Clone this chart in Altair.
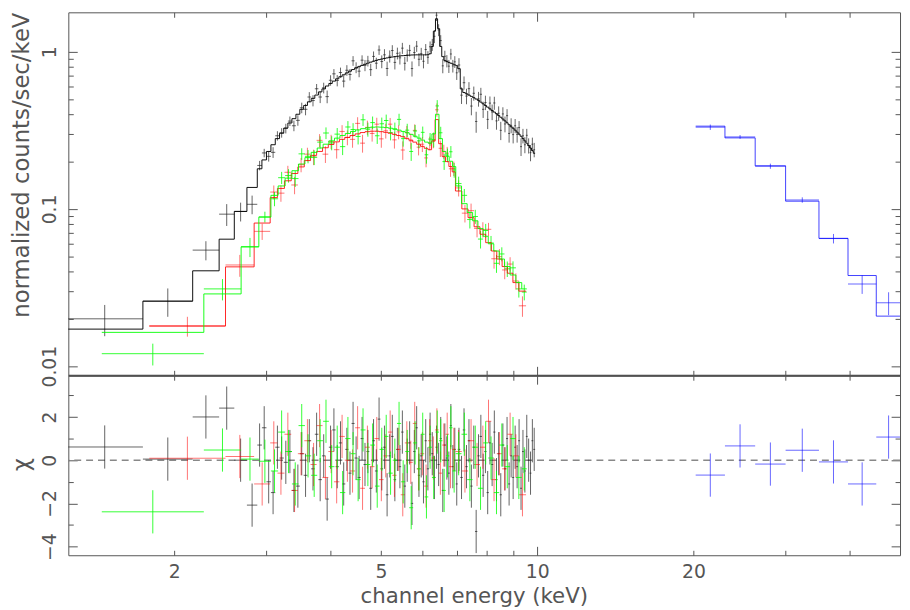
import altair as alt
import pandas as pd

# ---------------- data ----------------
# black group: bin edges (keV), flux, 1-sigma error, model, chi residual
black_edges = [1.24, 1.74, 2.17, 2.44, 2.61, 2.76, 2.89,
               2.95, 3.01, 3.07, 3.13, 3.19, 3.25, 3.31, 3.37, 3.43, 3.49,
               3.55, 3.61, 3.67, 3.73, 3.79, 3.85, 3.91, 3.97, 4.03, 4.09, 4.15, 4.21, 4.27,
               4.33, 4.39, 4.45, 4.51, 4.57, 4.63, 4.69, 4.75, 4.81, 4.87, 4.93, 4.99,
               5.05, 5.11, 5.17, 5.23, 5.29, 5.35, 5.41, 5.47, 5.53, 5.59, 5.65, 5.71, 5.77,
               5.83, 5.89, 5.95, 6.01, 6.07, 6.13, 6.19, 6.25, 6.31, 6.37, 6.43, 6.49, 6.55,
               6.61, 6.67, 6.73, 6.79, 6.85, 6.91, 6.97, 7.03,
               7.11, 7.19, 7.27, 7.35, 7.43, 7.51, 7.59, 7.67, 7.75, 7.83, 7.91, 7.99, 8.07,
               8.15, 8.23, 8.31, 8.39, 8.47, 8.55, 8.63, 8.71, 8.79, 8.87, 8.95, 9.03, 9.11,
               9.19, 9.27, 9.35, 9.43, 9.51, 9.59, 9.67, 9.75, 9.83, 9.91]
black_flux = [0.0200, 0.0259, 0.0547, 0.0926, 0.0964, 0.107,
              0.189, 0.227, 0.216, 0.229, 0.292, 0.305, 0.325, 0.362, 0.338, 0.366,
              0.440, 0.430, 0.515, 0.489, 0.581, 0.515, 0.589, 0.518, 0.658, 0.723, 0.656, 0.737, 0.650,
              0.762, 0.716, 0.875, 0.793, 0.752, 0.883, 0.819, 0.873, 0.769, 0.933, 0.845, 1.025,
              0.866, 0.955, 0.782, 0.936, 1.017, 0.855, 0.977, 0.914, 1.053, 0.844, 0.949, 1.019, 0.781,
              0.988, 1.084, 0.895, 0.972, 0.869, 1.032, 0.922, 1.075, 1.109, 1.253, 1.707, 1.375, 1.177,
              0.813, 0.935, 0.873, 0.809, 0.967, 0.812, 0.862, 0.734,
              0.823, 0.529, 0.635, 0.522, 0.582, 0.451, 0.544, 0.360, 0.501, 0.536, 0.430, 0.475, 0.371,
              0.471, 0.414, 0.472, 0.363, 0.406, 0.316, 0.402, 0.347, 0.392, 0.302, 0.340, 0.297, 0.338,
              0.298, 0.329, 0.249, 0.292, 0.256, 0.294, 0.253, 0.228, 0.258, 0.238]
black_err = [0.0045, 0.0053, 0.0076, 0.0147, 0.0132, 0.0145,
             0.013, 0.014, 0.016, 0.018, 0.020, 0.021, 0.023, 0.025, 0.026, 0.028,
             0.034, 0.036, 0.038, 0.040, 0.042, 0.044, 0.046, 0.048, 0.050, 0.052, 0.054, 0.055, 0.057,
             0.059, 0.060, 0.062, 0.063, 0.064, 0.065, 0.067, 0.068, 0.069, 0.070, 0.070, 0.071,
             0.081, 0.082, 0.082, 0.083, 0.083, 0.084, 0.084, 0.085, 0.085, 0.085, 0.085, 0.086, 0.086,
             0.086, 0.086, 0.086, 0.086, 0.086, 0.086, 0.086, 0.087, 0.097, 0.120, 0.140, 0.120, 0.097,
             0.084, 0.079, 0.078, 0.077, 0.076, 0.075, 0.074, 0.073,
             0.086, 0.064, 0.061, 0.059, 0.058, 0.057, 0.056, 0.055, 0.054, 0.053, 0.051, 0.050, 0.049,
             0.048, 0.047, 0.045, 0.044, 0.043, 0.042, 0.041, 0.040, 0.039, 0.038, 0.037, 0.036, 0.035,
             0.034, 0.033, 0.032, 0.031, 0.030, 0.029, 0.028, 0.027, 0.026, 0.025]
black_model = [0.0172, 0.0259, 0.0404, 0.0642, 0.0964, 0.137,
               0.180, 0.205, 0.232, 0.256, 0.280, 0.303, 0.327, 0.352, 0.375, 0.400,
               0.430, 0.455, 0.480, 0.505, 0.530, 0.555, 0.580, 0.605, 0.628, 0.650, 0.672, 0.693, 0.713,
               0.733, 0.752, 0.770, 0.787, 0.803, 0.818, 0.832, 0.846, 0.858, 0.870, 0.880, 0.890,
               0.898, 0.906, 0.913, 0.919, 0.925, 0.930, 0.935, 0.939, 0.943, 0.946, 0.949, 0.951, 0.953,
               0.954, 0.955, 0.955, 0.955, 0.955, 0.955, 0.956, 0.970, 1.080, 1.350, 1.620, 1.400, 1.080,
               0.930, 0.880, 0.865, 0.855, 0.845, 0.835, 0.825, 0.815,
               0.780, 0.580, 0.550, 0.540, 0.530, 0.520, 0.510, 0.500, 0.490, 0.478, 0.466, 0.455, 0.444,
               0.433, 0.423, 0.413, 0.403, 0.393, 0.383, 0.373, 0.363, 0.353, 0.343, 0.333, 0.326, 0.317,
               0.308, 0.299, 0.290, 0.280, 0.271, 0.262, 0.253, 0.244, 0.235, 0.226]
black_chi = [0.61, 0.05, 2.0, 2.41, 0.0, -2.08,
             0.7, 1.5, -1.0, -1.5, 0.6, 0.1, -0.1, 0.4, -1.4, -1.2,
             0.3, -0.7, 0.9, -0.4, 1.2, -0.9, 0.2, -1.8, 0.6, 1.4, -0.3, 0.8, -1.1,
             0.5, -0.6, 1.7, 0.1, -0.8, 1.0, -0.2, 0.4, -1.3, 0.9, -0.5, 1.9,
             -0.4, 0.6, -1.6, 0.2, 1.1, -0.9, 0.5, -0.3, 1.3, -1.2, 0.0, 0.8, -2.0,
             0.4, 1.5, -0.7, 0.2, -1.0, 0.9, -0.4, 1.2, 0.3, -0.8, 0.6, -0.2, 1.0,
             -1.4, 0.7, 0.1, -0.6, 1.6, -0.3, 0.5, -1.1,
             0.5, -0.8, 1.4, -0.3, 0.9, -1.2, 0.6, -3.3, 0.2, 1.1, -0.7, 0.4, -1.5,
             0.8, -0.2, 1.3, -0.9, 0.3, -1.6, 0.7, -0.4, 1.0, -1.1, 0.2, -0.8, 0.6,
             -0.3, 0.9, -1.3, 0.4, -0.5, 1.1, 0.0, -0.6, 0.9, 0.5]

# red group
red_edges = [1.79, 2.51, 2.85, 3.06,
             3.16, 3.26, 3.36, 3.46, 3.56, 3.66, 3.76, 3.86, 3.96, 4.06,
             4.16, 4.26, 4.36, 4.46, 4.56, 4.66, 4.76, 4.86, 4.96, 5.06,
             5.16, 5.26, 5.36, 5.46, 5.56, 5.66, 5.76, 5.86, 5.96, 6.06,
             6.16, 6.26, 6.36, 6.46, 6.56, 6.66, 6.76, 6.86, 6.96,
             7.16, 7.36, 7.56, 7.76, 7.96, 8.16, 8.36, 8.56, 8.76, 8.98, 9.22, 9.52]
red_flux = [0.0180, 0.044, 0.072,
            0.128, 0.126, 0.171, 0.142, 0.191, 0.223, 0.214, 0.273, 0.223, 0.268,
            0.238, 0.311, 0.285, 0.277, 0.350, 0.262, 0.330, 0.302, 0.346, 0.279,
            0.314, 0.346, 0.275, 0.309, 0.237, 0.306, 0.271, 0.316, 0.247, 0.258,
            0.211, 0.262, 0.273, 0.427, 0.243, 0.232, 0.226, 0.180, 0.181,
            0.136, 0.094, 0.0975, 0.0752, 0.0740, 0.0742, 0.0482, 0.0497, 0.0409, 0.0446, 0.0348, 0.0242]
red_err = [0.0026, 0.0070, 0.0085,
           0.013, 0.015, 0.017, 0.018, 0.020, 0.022, 0.024, 0.026, 0.027, 0.028,
           0.029, 0.030, 0.031, 0.032, 0.033, 0.034, 0.034, 0.034, 0.034, 0.034,
           0.034, 0.033, 0.033, 0.032, 0.032, 0.031, 0.030, 0.029, 0.028, 0.028,
           0.027, 0.026, 0.030, 0.041, 0.029, 0.024, 0.022, 0.020, 0.019,
           0.016, 0.012, 0.0106, 0.0092, 0.0083, 0.0073, 0.0065, 0.0058, 0.0052, 0.0047, 0.0041, 0.0036]
red_model = [0.0180, 0.0428, 0.0813,
             0.118, 0.135, 0.151, 0.168, 0.185, 0.203, 0.219, 0.232, 0.245, 0.257,
             0.267, 0.277, 0.285, 0.293, 0.300, 0.306, 0.310, 0.312, 0.312, 0.310,
             0.307, 0.303, 0.298, 0.293, 0.288, 0.281, 0.274, 0.266, 0.258, 0.250,
             0.243, 0.238, 0.270, 0.370, 0.260, 0.215, 0.200, 0.186, 0.172,
             0.130, 0.100, 0.088, 0.077, 0.069, 0.061, 0.054, 0.048, 0.043, 0.039, 0.034, 0.030]
red_chi = [0.09, 0.17, -1.1,
           0.8, -0.6, 1.2, -1.4, 0.3, 0.9, -0.2, 1.6, -0.8, 0.4,
           -1.0, 1.1, 0.0, -0.5, 1.5, -1.3, 0.6, -0.3, 1.0, -0.9,
           0.2, 1.3, -0.7, 0.5, -1.6, 0.8, -0.1, 1.7, -0.4, 0.3,
           -1.2, 0.9, 0.1, 1.4, -0.6, 0.7, 1.2, -0.3, 0.5,
           0.4, -0.5, 0.9, -0.2, 0.6, 1.8, -0.9, 0.3, -0.4, 1.2, 0.2, -1.6]

# green group
green_edges = [1.45, 2.28, 2.69, 2.91, 3.07,
               3.17, 3.27, 3.37, 3.47, 3.57, 3.67, 3.77, 3.87, 3.97, 4.07,
               4.17, 4.27, 4.37, 4.47, 4.57, 4.67, 4.77, 4.87, 4.97, 5.07,
               5.17, 5.27, 5.37, 5.47, 5.57, 5.67, 5.77, 5.87, 5.97, 6.07,
               6.17, 6.27, 6.37, 6.47, 6.57, 6.67, 6.77, 6.87, 6.97,
               7.15, 7.33, 7.51, 7.69, 7.87, 8.05, 8.25, 8.45, 8.65, 8.87, 9.10, 9.34, 9.55]
green_flux = [0.0120, 0.0310, 0.0574, 0.089,
              0.116, 0.158, 0.163, 0.156, 0.224, 0.216, 0.213, 0.266, 0.304, 0.263,
              0.299, 0.249, 0.332, 0.320, 0.289, 0.369, 0.321, 0.354, 0.292, 0.348,
              0.365, 0.306, 0.322, 0.371, 0.280, 0.317, 0.232, 0.313, 0.271, 0.307,
              0.221, 0.278, 0.276, 0.452, 0.305, 0.200, 0.220, 0.231, 0.177,
              0.145, 0.122, 0.0856, 0.0895, 0.0643, 0.0729, 0.0607, 0.0451, 0.0517, 0.0416, 0.0422,
              0.0310, 0.0296]
green_err = [0.0019, 0.0048, 0.008, 0.007,
             0.012, 0.014, 0.016, 0.018, 0.019, 0.021, 0.023, 0.024, 0.026, 0.027,
             0.028, 0.029, 0.030, 0.031, 0.032, 0.032, 0.033, 0.033, 0.033, 0.033,
             0.033, 0.033, 0.032, 0.032, 0.031, 0.031, 0.030, 0.029, 0.028, 0.027,
             0.027, 0.026, 0.030, 0.040, 0.028, 0.023, 0.022, 0.020, 0.019,
             0.0154, 0.0119, 0.0105, 0.0092, 0.0083, 0.0074, 0.0066, 0.0059, 0.0053, 0.0047, 0.0042,
             0.0037, 0.0034]
green_model = [0.0164, 0.0288, 0.0574, 0.0887,
               0.122, 0.140, 0.157, 0.175, 0.193, 0.212, 0.229, 0.244, 0.258, 0.271,
               0.282, 0.293, 0.302, 0.311, 0.318, 0.324, 0.328, 0.331, 0.332, 0.331,
               0.329, 0.326, 0.322, 0.317, 0.311, 0.305, 0.298, 0.290, 0.282, 0.274,
               0.266, 0.262, 0.300, 0.400, 0.280, 0.232, 0.216, 0.201, 0.186,
               0.140, 0.108, 0.095, 0.084, 0.075, 0.067, 0.060, 0.054, 0.048, 0.043, 0.038,
               0.034, 0.031]
green_chi = [-2.39, 0.47, 0.05, -0.05,
             -0.5, 1.3, 0.4, -1.1, 1.6, 0.2, -0.7, 0.9, 1.8, -0.3,
             0.6, -1.5, 1.0, 0.3, -0.9, 1.4, -0.2, 0.7, -1.2, 0.5,
             1.1, -0.6, 0.0, 1.7, -1.0, 0.4, -2.2, 0.8, -0.4, 1.2,
             -1.7, 0.6, -0.8, 1.3, 0.9, -1.4, 0.2, 1.5, -0.5,
             0.3, 1.2, -0.9, 0.6, -1.3, 0.8, 0.1, -1.5, 0.7, -0.3, 1.0, -0.8, -0.4]

# blue group (hard X-ray)
blue_edges = [20.2, 23.0, 26.3, 30.1, 34.9, 39.7, 45.0, 50.2]
blue_flux = [0.331, 0.287, 0.187, 0.114, 0.0648, 0.0333, 0.0253]
blue_err = [0.013, 0.008, 0.007, 0.0045, 0.0045, 0.0045, 0.0042]
blue_model = [0.336, 0.283, 0.188, 0.112, 0.0650, 0.0377, 0.0208]
blue_chi = [-0.69, 0.66, -0.18, 0.46, -0.08, -1.10, 1.07]

# axes: domains, tick values and labels
x_domain = [1.25, 50]
top_domain = [0.00875, 1.78]
chi_domain = [-4.4, 3.93]
x_major = [10]
x_minor = [2, 3, 4, 5, 6, 7, 8, 9, 20, 30, 40]
x_labels = [2, 5, 10, 20]
top_major = [0.01, 0.1, 1]
top_minor = [0.02, 0.03, 0.04, 0.05, 0.06, 0.07, 0.08, 0.09,
             0.2, 0.3, 0.4, 0.5, 0.6, 0.7, 0.8, 0.9]
chi_major = [-4, -2, 0, 2]
chi_minor = [-3, -1, 1, 3]
chi_zero = [0]

# ---------------- styling ----------------
FONT = "DejaVu Sans"
TXT = "#555555"
FRAME = "#555555"
W, H_TOP, H_BOT = 841, 367, 182

series = [
    ("black", black_edges, black_flux, black_err, black_model, black_chi, "#222222", "#000000", 0.7, 0.95),
    ("red", red_edges, red_flux, red_err, red_model, red_chi, "#ff0000", "#ff0000", 0.55, 0.85),
    ("green", green_edges, green_flux, green_err, green_model, green_chi, "#00ff00", "#00ff00", 0.8, 0.9),
    ("blue", blue_edges, blue_flux, blue_err, blue_model, blue_chi, "#0000ff", "#0000ff", 0.6, 0.75),
]


def tables(edges, flux, err, model, chi):
    n = len(flux)
    assert len(edges) == n + 1 and len(err) == n and len(model) == n and len(chi) == n, \
        (len(edges), n, len(err), len(model), len(chi))
    lo, hi = edges[:-1], edges[1:]
    pts = pd.DataFrame({
        "lo": lo, "hi": hi,
        "c": [(a * b) ** 0.5 for a, b in zip(lo, hi)],
        "f": flux,
        "f1": [f - e for f, e in zip(flux, err)],
        "f2": [f + e for f, e in zip(flux, err)],
        "chi": chi,
        "chi1": [v - 1 for v in chi],
        "chi2": [v + 1 for v in chi],
    })
    st_e, st_m, st_k = [], [], []
    for i in range(n):
        st_e += [lo[i], hi[i]]
        st_m += [model[i], model[i]]
        st_k += [2 * i, 2 * i + 1]
    steps = pd.DataFrame({"e": st_e, "m": st_m, "k": st_k})
    return pts, steps


xs = alt.Scale(type="log", domain=x_domain, nice=False, zero=False)
ys_top = alt.Scale(type="log", domain=top_domain, nice=False, zero=False)
ys_bot = alt.Scale(type="linear", domain=chi_domain, nice=False, zero=False)


def tick_axis(orient, values, size, **extra):
    opts = dict(orient=orient, values=values, tickSize={"expr": str(-size)},
                labels=False, domain=False, grid=False, title=None,
                tickColor=FRAME, tickWidth=1, ticks=True)
    opts.update(extra)
    return alt.Axis(**opts)


def y_label_axis(values, title, title_y):
    return alt.Axis(orient="left", values=values, ticks=False, tickSize=0,
                    labelAngle=270, labelAlign="center", labelBaseline="bottom",
                    labelPadding=9, labelFont=FONT, labelFontSize=19, labelColor=TXT,
                    labelOverlap=False, labelFlush=False, format="~g",
                    domain=False, grid=False, title=title, titleFont=FONT,
                    titleFontSize=23, titleFontWeight="normal", titleColor=TXT,
                    titleAngle=270, titleX=-47, titleY=title_y,
                    titleAlign="center", titleBaseline="middle")


x_label_axis = alt.Axis(orient="bottom", values=x_labels, ticks=False, tickSize=0,
                        labelPadding=8, labelFont=FONT, labelFontSize=19, labelColor=TXT,
                        labelOverlap=False, labelFlush=False, format="~g",
                        domain=False, grid=False, title="channel energy (keV)",
                        titleFont=FONT, titleFontSize=21.5, titleFontWeight="normal",
                        titleColor=TXT, titleAngle=0, titleX=410, titleY=42,
                        titleAlign="center", titleBaseline="middle")

# axis slots: each layer carries at most one x and one y axis
top_x_axes = [tick_axis("bottom", x_major, 9, domain=True, domainColor="#444444", domainWidth=2),
              tick_axis("bottom", x_minor, 5),
              tick_axis("top", x_major, 9), tick_axis("top", x_minor, 5), None]
top_y_axes = [y_label_axis(top_major, "normalized counts/sec/keV", 154),
              tick_axis("left", top_major, 9), tick_axis("left", top_minor, 5),
              tick_axis("right", top_major, 9), tick_axis("right", top_minor, 5)]
bot_x_axes = [x_label_axis, tick_axis("bottom", x_major, 9), tick_axis("bottom", x_minor, 5),
              tick_axis("top", x_major, 9), tick_axis("top", x_minor, 5)]
bot_y_axes = [y_label_axis(chi_major, "χ", 90),
              tick_axis("left", chi_major, 9), tick_axis("left", chi_minor, 5),
              tick_axis("right", chi_major, 9), tick_axis("right", chi_minor, 5)]


def pick(lst, i):
    return lst[i] if i < len(lst) else None


top_layers = []
bot_layers = []
model_layers = []
for name, edges, flux, err, model, chi, dcol, mcol, dop, mop in series:
    pts, steps = tables(edges, flux, err, model, chi)
    base = alt.Chart(pts)
    # spectrum panel
    ti = len(top_layers)
    top_layers.append(base.mark_rule(clip=True, color=dcol, opacity=dop, strokeWidth=1).encode(
        x=alt.X("lo:Q", scale=xs, axis=pick(top_x_axes, ti)), x2="hi:Q",
        y=alt.Y("f:Q", scale=ys_top, axis=pick(top_y_axes, ti))))
    ti = len(top_layers)
    top_layers.append(base.mark_rule(clip=True, color=dcol, opacity=dop, strokeWidth=1).encode(
        x=alt.X("c:Q", scale=xs, axis=pick(top_x_axes, ti)),
        y=alt.Y("f1:Q", scale=ys_top, axis=pick(top_y_axes, ti)), y2="f2:Q"))
    model_layers.append(alt.Chart(steps).mark_line(clip=True, color=mcol, opacity=mop, strokeWidth=1).encode(
        x=alt.X("e:Q", scale=xs, axis=None),
        y=alt.Y("m:Q", scale=ys_top, axis=None),
        order="k:Q"))
    # residual panel
    bi = len(bot_layers)
    bot_layers.append(base.mark_rule(clip=True, color=dcol, opacity=dop, strokeWidth=1).encode(
        x=alt.X("lo:Q", scale=xs, axis=pick(bot_x_axes, bi)), x2="hi:Q",
        y=alt.Y("chi:Q", scale=ys_bot, axis=pick(bot_y_axes, bi))))
    bi = len(bot_layers)
    bot_layers.append(base.mark_rule(clip=True, color=dcol, opacity=dop, strokeWidth=1).encode(
        x=alt.X("c:Q", scale=xs, axis=pick(bot_x_axes, bi)),
        y=alt.Y("chi1:Q", scale=ys_bot, axis=pick(bot_y_axes, bi)), y2="chi2:Q"))

zero_line = alt.Chart(pd.DataFrame({"z": chi_zero})).mark_rule(
    color="#888888", strokeDash=[7, 5], strokeWidth=1.5).encode(
    y=alt.Y("z:Q", scale=ys_bot, axis=None))

top = alt.layer(*top_layers, *model_layers).resolve_axis(x="independent", y="independent").properties(
    width=W, height=H_TOP)
bottom = alt.layer(zero_line, *bot_layers).resolve_axis(x="independent", y="independent").properties(
    width=W, height=H_BOT)

chart = alt.vconcat(top, bottom, spacing=0, bounds="flush").properties(
    padding={"left": 2, "top": 0, "right": 0, "bottom": 0}
).configure_view(stroke=FRAME, strokeWidth=1).configure_axis(grid=False)

chart.save("out.html", embed_options={"renderer": "svg", "actions": False})
